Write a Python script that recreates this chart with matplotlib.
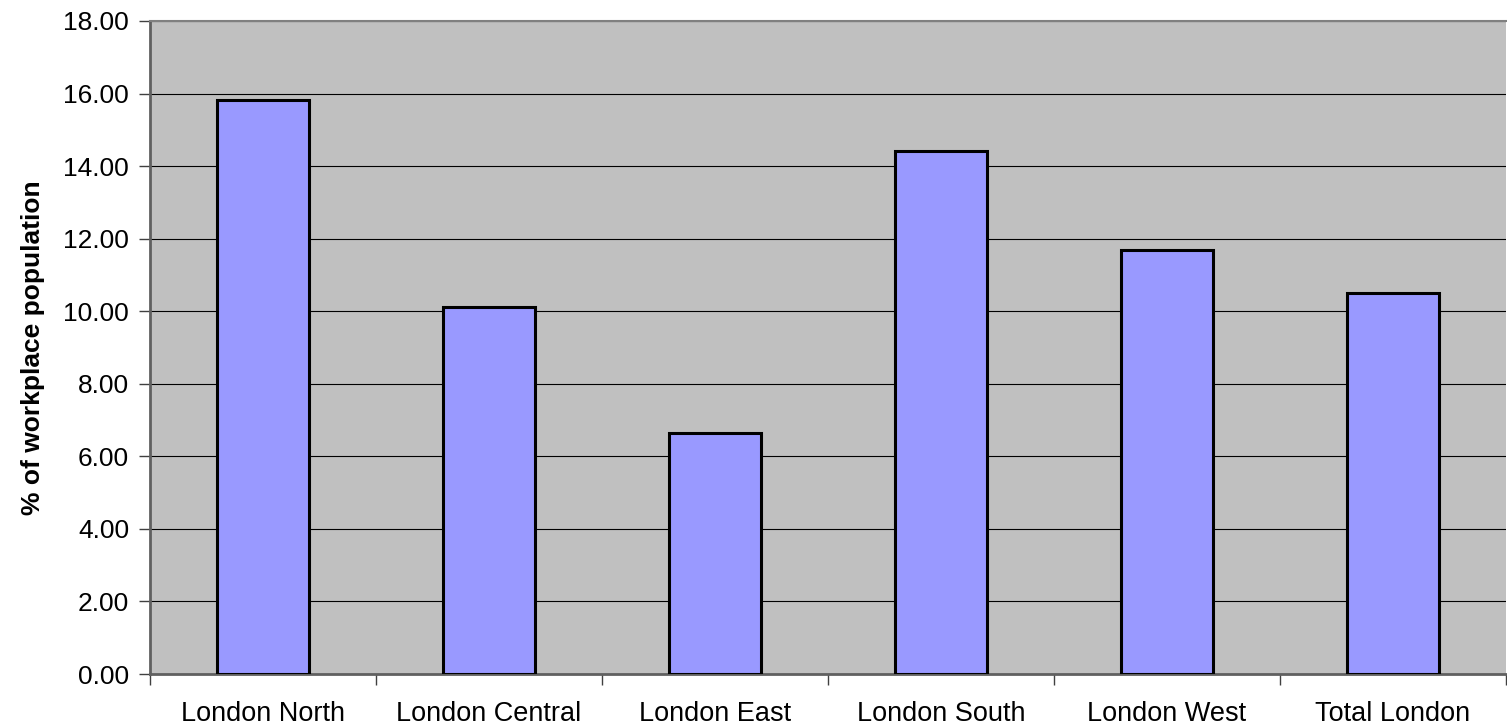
import matplotlib
matplotlib.use("Agg")
from matplotlib import pyplot as plt
import numpy as np

regions = ["London North", "London Central", "London East",
           "London South", "London West", "Total London"]
percent = [15.83, 10.13, 6.65, 14.41, 11.70, 10.50]
yticks = [0, 2, 4, 6, 8, 10, 12, 14, 16, 18]

plt.rcParams["font.family"] = ["Liberation Sans", "DejaVu Sans"]

fig = plt.figure(figsize=(15.07, 7.27), dpi=100)
ax = fig.add_axes([150 / 1507, 53 / 727, 1356 / 1507, 653 / 727])
ax.set_facecolor("#C0C0C0")

x = np.arange(len(regions))
ax.bar(x, percent, width=0.407, color="#9999FF", edgecolor="black",
       linewidth=2.2, zorder=3)

ax.set_xlim(-0.5, len(regions) - 0.5)
ax.set_ylim(0, 18)
ax.set_yticks(yticks)
ax.set_yticklabels(["%.2f" % v for v in yticks], fontsize=19)
ax.yaxis.grid(True, color="black", linewidth=0.8, zorder=1)
ax.set_axisbelow(True)

ax.set_xticks(x)
ax.set_xticklabels(regions, fontsize=19.5)
ax.tick_params(axis="x", which="major", length=0, pad=19.5)
ax.set_xticks(np.arange(-0.5, len(regions)), minor=True)
ax.tick_params(axis="x", which="minor", length=8, width=1, color="#404040")
ax.tick_params(axis="y", length=8, width=1, color="#404040", pad=7)

ax.set_ylabel("% of workplace population", fontsize=19, fontweight="bold",
              labelpad=13)

for side in ["left", "bottom"]:
    ax.spines[side].set_color("#606060")
    ax.spines[side].set_linewidth(2)
ax.spines["top"].set_color("#808080")
ax.spines["top"].set_linewidth(1.5)
ax.spines["right"].set_visible(False)

fig.savefig("out.png", dpi=100)
